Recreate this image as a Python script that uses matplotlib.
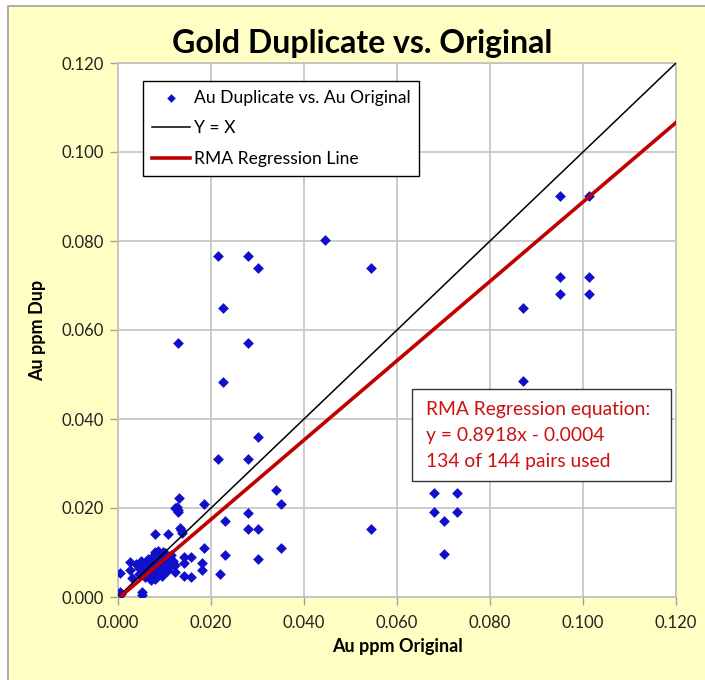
import matplotlib.pyplot as plt
from matplotlib.patches import Rectangle
import numpy as np

plt.rcParams['font.family'] = ['Lato', 'DejaVu Sans']

# data (Au ppm)
au_orig = [0.0445, 0.0216, 0.028, 0.030, 0.0544,
           0.0225, 0.028, 0.0129, 0.0225, 0.087,
           0.0951, 0.1013, 0.0951, 0.1013, 0.0951, 0.1013, 0.087,
           0.030, 0.0215, 0.028, 0.034, 0.035, 0.0184,
           0.028, 0.023, 0.028, 0.030, 0.0544,
           0.068, 0.073, 0.068, 0.073, 0.0702, 0.0702,
           0.0184, 0.035, 0.023, 0.030, 0.0157, 0.0141,
           0.018, 0.018, 0.0141, 0.022, 0.0157, 0.0141,
           0.0131, 0.0123, 0.0128, 0.0130, 0.0126,
           0.0133, 0.0138, 0.008, 0.0108, 0.0135,
           0.0004, 0.0004, 0.0006, 0.0051, 0.0051,
           0.0026, 0.0026, 0.003, 0.0038, 0.0045, 0.0058, 0.0072,
           0.008, 0.0086, 0.0097, 0.0112, 0.0123, 0.0123,
           0.005, 0.0055, 0.006, 0.0065, 0.007, 0.0075, 0.008, 0.0085,
           0.009, 0.0095, 0.010, 0.0105, 0.011, 0.0115, 0.0065, 0.0085,
           0.0095, 0.0105, 0.006, 0.0075, 0.0088, 0.010, 0.0118, 0.0055,
           0.0078, 0.0045, 0.0068, 0.008]
au_dup = [0.0802, 0.0767, 0.0767, 0.074, 0.074,
          0.065, 0.057, 0.0571, 0.0484, 0.0485,
          0.0901, 0.0901, 0.072, 0.072, 0.0681, 0.0681, 0.065,
          0.036, 0.031, 0.031, 0.024, 0.021, 0.021,
          0.0189, 0.0171, 0.0153, 0.0153, 0.0153,
          0.0234, 0.0234, 0.019, 0.019, 0.0171, 0.0096,
          0.011, 0.011, 0.0094, 0.0085, 0.009, 0.009,
          0.0076, 0.006, 0.0076, 0.0052, 0.0045, 0.0048,
          0.0222, 0.0200, 0.0195, 0.0190, 0.0203,
          0.0155, 0.0143, 0.0142, 0.0142, 0.015,
          0.0053, 0.0012, 0.0006, 0.0012, 0.0004,
          0.0079, 0.006, 0.0042, 0.0074, 0.0066, 0.0046, 0.0038,
          0.0101, 0.0103, 0.0101, 0.0088, 0.0072, 0.0057,
          0.0082, 0.0075, 0.0068, 0.0085, 0.0078, 0.0062, 0.007, 0.0082,
          0.0075, 0.0065, 0.0088, 0.0078, 0.0068, 0.0095, 0.0055, 0.0055,
          0.0048, 0.0058, 0.0052, 0.0092, 0.0092, 0.010, 0.0082, 0.0062,
          0.0048, 0.0052, 0.0072, 0.004]

# RMA regression
slope = 0.8918
intercept = -0.0004
xline = np.array([0.0, 0.12])

ticks = [0.000, 0.020, 0.040, 0.060, 0.080, 0.100, 0.120]
tick_labels = ['0.000', '0.020', '0.040', '0.060', '0.080', '0.100', '0.120']
eq_lines = ['RMA Regression equation:', 'y = 0.8918x - 0.0004', '134 of 144 pairs used']

fig = plt.figure(figsize=(7.05, 6.8), dpi=100)
fig.patch.set_facecolor('white')

# yellow chart area with grey border
fig.patches.append(Rectangle((8/705, -0.05), 1.0, 1.05 - 6/680, transform=fig.transFigure,
                             facecolor='#FFFFC4', edgecolor='#A0A0A0', linewidth=1.2, zorder=-10))

ax = fig.add_axes([118/705, 1 - 597/680, 558/705, 534/680])
ax.set_zorder(1)
ax.set_facecolor('white')

ax.scatter(au_orig, au_dup, marker='D', s=30, color='#1010CC', linewidths=0,
           label='Au Duplicate vs. Au Original', zorder=3)
ax.plot(xline, xline, color='black', linewidth=1.1, label='Y = X', zorder=4)
ax.plot(xline, slope*xline + intercept, color='#C00000', linewidth=2.6,
        label='RMA Regression Line', zorder=5)

ax.set_xlim(0, 0.12)
ax.set_ylim(0, 0.12)
ax.set_xticks(ticks)
ax.set_xticklabels(tick_labels)
ax.set_yticks(ticks)
ax.set_yticklabels(tick_labels)
ax.tick_params(axis='both', labelsize=12, length=6, width=1, color='#A0A0A0', pad=4,
               labelcolor='#222222')
ax.tick_params(axis='x', pad=7)
ax.grid(True, color='#C4C4C4', linewidth=1.2)
ax.set_axisbelow(True)
for sp in ax.spines.values():
    sp.set_color('#C0C0C0')
    sp.set_linewidth(1.2)

ax.set_xlabel('Au ppm Original', fontsize=13, fontweight='bold', labelpad=5)
ax.set_ylabel('Au ppm Dup', fontsize=13, fontweight='bold', labelpad=11)

fig.text(0.5135, 1 - 43/680, 'Gold Duplicate vs. Original', fontsize=23, fontweight='bold',
         ha='center', va='center')

leg = ax.legend(loc='upper left', bbox_to_anchor=(25/558, 1 - 18/534), borderaxespad=0,
                fontsize=12.6, fancybox=False, framealpha=1, edgecolor='black',
                handlelength=2.2, handletextpad=0.2, labelspacing=0.84, borderpad=0.5,
                scatterpoints=1, markerscale=0.8)
leg.get_frame().set_linewidth(1.0)

# equation box
ax.add_patch(Rectangle((0.5263, 0.2172), 0.4642, 0.1718, transform=ax.transAxes,
                       facecolor='white', edgecolor='#333333', linewidth=1.0, zorder=6))
for yy, txt in zip([0.3502, 0.3024, 0.2534], eq_lines):
    ax.text(0.552, yy, txt, transform=ax.transAxes, fontsize=13.9, color='#CC1111',
            va='center', ha='left', zorder=7)

plt.savefig('out.png', dpi=100)
